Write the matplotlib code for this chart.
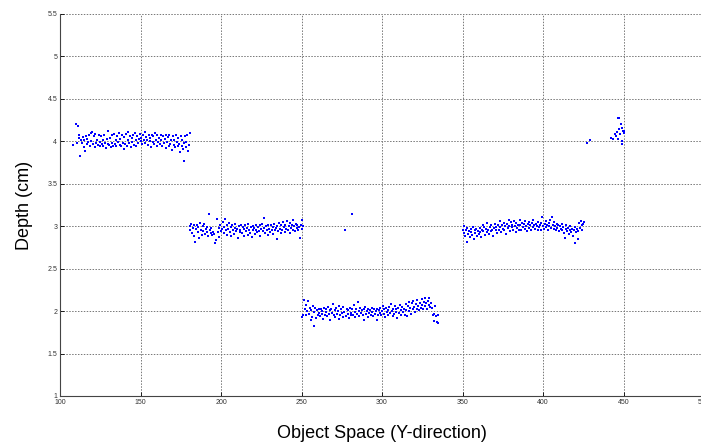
import matplotlib.pyplot as plt
from matplotlib.ticker import FormatStrFormatter

plt.rcParams['font.family'] = ['Liberation Sans', 'DejaVu Sans']

# depth readings (object space y, depth in cm), one list per plateau
cluster1 = [(108.0, 3.96), (109.7, 4.21), (110.5, 3.98), (111.0, 4.18), (111.6, 4.04), (112.0, 4.07), (112.6, 3.83),
            (113.0, 4.01), (113.5, 3.98), (114.0, 4.05), (114.6, 3.93), (115.0, 4.02), (115.5, 3.89), (116.0, 4.06),
            (116.5, 3.97), (117.0, 4.03), (117.6, 3.99), (118.0, 4.08), (118.5, 3.95), (119.0, 4.10), (119.5, 4.00),
            (120.0, 4.11), (120.6, 3.97), (121.0, 4.06), (121.5, 3.93), (122.0, 4.09), (122.5, 3.98), (123.0, 4.02),
            (123.6, 3.96), (124.0, 4.07), (124.6, 3.99), (125.0, 3.94), (125.5, 4.06), (126.0, 3.97), (126.6, 4.01),
            (127.0, 3.95), (127.5, 4.07), (128.0, 3.98), (128.6, 3.92), (129.0, 4.03), (129.6, 3.97), (130.0, 4.12),
            (130.5, 3.96), (131.0, 4.04), (131.6, 3.93), (132.0, 4.07), (132.5, 3.98), (133.0, 3.95), (133.5, 4.09),
            (134.0, 3.97), (134.6, 4.02), (135.0, 3.94), (135.5, 4.06), (136.0, 3.99), (136.6, 4.10), (137.0, 3.96),
            (137.5, 4.03), (138.0, 3.94), (138.6, 4.08), (139.0, 3.98), (139.5, 3.91), (140.0, 4.05), (140.5, 3.97),
            (141.0, 4.09), (141.6, 3.95), (142.0, 4.02), (142.5, 4.11), (143.0, 3.98), (143.6, 4.06), (144.0, 3.93),
            (144.5, 4.04), (145.0, 3.99), (145.6, 4.08), (146.0, 3.96), (146.5, 4.10), (147.0, 4.01), (147.5, 3.94),
            (148.0, 4.06), (148.6, 3.98), (149.0, 4.03), (149.5, 4.09), (150.0, 4.00), (150.5, 4.04), (151.0, 3.97),
            (151.6, 4.07), (152.0, 4.01), (152.5, 4.11), (153.0, 3.98), (153.6, 4.05), (154.0, 4.02), (154.5, 3.96),
            (155.0, 4.08), (155.6, 4.00), (156.0, 4.04), (156.5, 3.93), (157.0, 4.07), (157.6, 3.99), (158.0, 4.06),
            (158.5, 3.97), (159.0, 4.10), (159.6, 4.02), (160.0, 3.95), (160.5, 4.07), (161.0, 3.99), (161.6, 4.04),
            (162.0, 3.97), (162.5, 4.08), (163.0, 4.01), (163.6, 3.94), (164.0, 4.06), (164.5, 3.98), (165.0, 4.03),
            (165.6, 3.92), (166.0, 4.07), (166.5, 3.99), (167.0, 4.05), (167.6, 3.95), (168.0, 4.08), (168.5, 3.97),
            (169.0, 4.02), (169.6, 3.90), (170.0, 4.06), (170.5, 3.96), (171.0, 4.01), (171.6, 3.93), (172.0, 4.08),
            (172.5, 3.99), (173.0, 3.94), (173.6, 4.04), (174.0, 3.97), (174.5, 3.88), (175.0, 4.06), (175.6, 3.95),
            (176.0, 4.01), (176.5, 3.91), (177.0, 3.98), (177.2, 3.77), (177.6, 4.06), (178.0, 3.93), (178.5, 3.99),
            (179.0, 4.07), (179.4, 3.89), (180.0, 3.96), (180.7, 4.10)]

cluster2 = [(180.5, 3.00), (181.0, 2.96), (181.6, 3.03), (182.0, 2.92), (182.5, 2.98), (183.0, 3.02), (183.5, 2.88),
            (184.0, 2.81), (184.5, 2.97), (185.0, 3.01), (185.6, 2.93), (186.0, 2.99), (186.5, 2.86), (187.0, 3.04),
            (187.5, 2.95), (188.0, 2.90), (188.6, 3.00), (189.0, 2.94), (189.5, 3.03), (190.0, 2.91), (190.5, 2.97),
            (191.0, 2.93), (191.6, 2.99), (192.0, 2.89), (192.7, 3.14), (193.0, 2.95), (193.6, 2.92), (194.0, 2.98),
            (194.5, 2.90), (195.0, 2.93), (195.6, 2.91), (196.3, 2.80), (197.0, 2.84), (197.3, 3.08), (198.0, 2.93),
            (198.5, 2.98), (199.0, 2.87), (199.6, 3.01), (200.0, 2.94), (200.5, 2.97), (201.0, 3.05), (201.6, 2.92),
            (202.0, 2.99), (202.5, 3.08), (203.0, 2.95), (203.6, 3.02), (204.0, 2.90), (204.5, 2.97), (205.0, 3.04),
            (205.6, 2.93), (206.0, 2.99), (206.5, 2.88), (207.0, 3.01), (207.6, 2.95), (208.0, 2.91), (208.5, 2.98),
            (209.0, 3.03), (209.6, 2.94), (210.0, 2.97), (210.5, 2.86), (211.0, 3.00), (211.6, 2.93), (212.0, 2.96),
            (212.5, 3.02), (213.0, 2.92), (213.6, 2.99), (214.0, 2.89), (214.5, 2.97), (215.0, 3.01), (215.6, 2.94),
            (216.0, 2.98), (216.5, 2.90), (217.0, 3.03), (217.6, 2.96), (218.0, 2.92), (218.5, 2.99), (219.0, 2.87),
            (219.6, 3.00), (220.0, 2.95), (220.5, 2.98), (221.0, 2.91), (221.6, 3.02), (222.0, 2.96), (222.5, 2.93),
            (223.0, 2.99), (223.6, 2.94), (224.0, 3.01), (224.5, 2.89), (225.0, 2.97), (225.6, 3.03), (226.0, 2.94),
            (226.7, 3.10), (227.0, 2.98), (227.5, 2.92), (228.0, 3.00), (228.6, 2.95), (229.0, 3.02), (229.5, 2.90),
            (230.0, 2.97), (230.6, 2.93), (231.0, 3.01), (231.5, 2.96), (232.0, 2.99), (232.6, 2.91), (233.0, 3.03),
            (233.5, 2.95), (234.0, 2.98), (234.6, 2.85), (235.0, 3.00), (235.5, 2.94), (236.0, 3.04), (236.6, 2.97),
            (237.0, 2.92), (237.5, 3.01), (238.0, 2.96), (238.6, 3.05), (239.0, 2.99), (239.5, 2.93), (240.0, 3.02),
            (240.6, 2.97), (241.0, 3.06), (241.5, 2.95), (242.0, 3.00), (242.6, 2.92), (243.0, 3.04), (243.5, 2.98),
            (244.0, 3.02), (244.6, 2.96), (245.0, 3.07), (245.5, 3.00), (246.0, 2.94), (246.6, 3.03), (247.0, 2.98),
            (247.5, 3.01), (248.0, 2.95), (248.6, 2.99), (249.0, 2.86), (249.5, 3.02), (250.0, 3.07), (250.5, 2.97),
            (251.0, 3.00)]

strays = [(277.0, 2.96), (281.4, 3.14)]

cluster3 = [(250.6, 1.93), (251.0, 1.96), (251.6, 2.13), (252.0, 2.03), (252.5, 1.95), (253.0, 2.07), (253.6, 2.00),
            (254.0, 2.12), (254.5, 1.97), (255.0, 2.04), (255.6, 1.90), (256.0, 2.01), (256.5, 1.93), (257.0, 2.06),
            (257.8, 1.83), (258.0, 1.99), (258.6, 2.04), (259.0, 1.92), (259.5, 2.01), (260.0, 1.96), (260.6, 2.02),
            (261.0, 1.98), (261.5, 1.94), (262.0, 2.03), (262.6, 1.97), (263.0, 2.00), (263.5, 1.91), (264.0, 2.04),
            (264.6, 1.96), (265.0, 1.99), (265.5, 2.02), (266.0, 1.94), (266.6, 2.05), (267.0, 1.97), (267.5, 2.01),
            (268.0, 1.89), (268.6, 2.03), (269.0, 1.98), (269.5, 2.08), (270.0, 1.95), (270.6, 2.01), (271.0, 1.93),
            (271.5, 2.04), (272.0, 1.97), (272.6, 2.00), (273.0, 1.91), (273.5, 2.06), (274.0, 1.96), (274.6, 2.02),
            (275.0, 1.98), (275.5, 1.93), (276.0, 2.05), (276.6, 1.99), (277.5, 1.94), (278.0, 2.03), (278.6, 1.97),
            (279.0, 2.01), (279.5, 1.92), (280.0, 2.04), (280.6, 1.98), (281.0, 1.95), (281.5, 2.02), (282.0, 1.96),
            (282.6, 2.07), (283.0, 1.99), (283.5, 1.93), (284.0, 2.03), (284.6, 1.97), (285.0, 2.11), (285.5, 2.00),
            (286.0, 1.94), (286.6, 2.04), (287.0, 1.98), (287.5, 2.01), (288.0, 1.95), (288.6, 2.02), (289.0, 1.90),
            (289.5, 2.05), (290.0, 1.97), (290.6, 2.00), (291.0, 1.93), (291.5, 2.03), (292.0, 1.98), (292.6, 2.01),
            (293.0, 1.96), (293.5, 2.04), (294.0, 1.99), (294.6, 1.94), (295.0, 2.02), (295.5, 1.97), (296.0, 2.00),
            (296.6, 1.89), (297.0, 2.03), (297.5, 1.96), (298.0, 2.01), (298.6, 1.98), (299.0, 2.04), (299.5, 1.95),
            (300.0, 2.00), (300.6, 2.06), (301.0, 1.97), (301.5, 2.02), (302.0, 1.93), (302.6, 2.04), (303.0, 1.99),
            (303.5, 2.01), (304.0, 1.95), (304.6, 2.05), (305.0, 1.98), (305.5, 2.08), (306.0, 2.00), (306.6, 1.94),
            (307.0, 2.03), (307.5, 1.97), (308.0, 2.06), (308.6, 1.99), (309.0, 2.02), (309.5, 1.92), (310.0, 2.04),
            (310.6, 1.98), (311.0, 2.07), (311.5, 2.01), (312.0, 1.95), (312.6, 2.05), (313.0, 1.99), (313.5, 2.03),
            (314.0, 1.96), (314.6, 2.08), (315.0, 2.01), (315.5, 1.94), (316.0, 2.06), (316.6, 2.11), (317.0, 2.00),
            (317.5, 2.04), (318.0, 1.97), (318.6, 2.09), (319.0, 2.02), (319.5, 2.12), (320.0, 2.05), (320.6, 1.99),
            (321.0, 2.08), (321.5, 2.03), (322.0, 2.13), (322.6, 2.06), (323.0, 2.01), (323.5, 2.10), (324.0, 2.04),
            (324.6, 2.14), (325.0, 2.07), (325.5, 2.02), (326.0, 2.11), (326.6, 2.15), (327.0, 2.06), (327.5, 2.09),
            (328.0, 2.03), (328.6, 2.12), (329.0, 2.07), (329.5, 2.16), (330.0, 2.05), (330.6, 2.10), (331.0, 2.04),
            (331.5, 1.96), (332.0, 1.88), (332.6, 1.97), (333.0, 2.06), (333.5, 1.94), (334.0, 1.87), (334.6, 1.96),
            (335.0, 1.86)]

cluster4 = [(350.3, 2.96), (350.8, 2.92), (351.2, 3.00), (351.6, 2.89), (352.0, 2.95), (352.8, 2.82), (353.0, 2.98),
            (353.5, 2.91), (354.0, 2.94), (354.6, 2.87), (355.0, 2.97), (355.5, 2.93), (356.0, 2.90), (356.6, 2.99),
            (357.0, 2.85), (357.5, 2.95), (358.0, 2.92), (358.6, 2.97), (359.0, 2.88), (359.5, 2.94), (360.0, 2.91),
            (360.6, 2.98), (361.0, 2.93), (361.5, 2.87), (362.0, 2.96), (362.6, 3.02), (363.0, 2.94), (363.5, 2.99),
            (364.0, 2.90), (364.6, 2.97), (365.0, 2.93), (365.5, 3.04), (366.0, 2.96), (366.6, 2.91), (367.0, 2.99),
            (367.5, 2.94), (368.0, 3.01), (368.6, 2.95), (369.0, 2.89), (369.5, 2.98), (370.0, 3.03), (370.6, 2.95),
            (371.0, 2.99), (371.5, 2.92), (372.0, 3.02), (372.6, 2.96), (373.0, 3.06), (373.5, 2.99), (374.0, 2.93),
            (374.6, 3.01), (375.0, 2.97), (375.5, 3.04), (376.0, 2.95), (376.6, 3.00), (377.0, 2.91), (377.5, 3.03),
            (378.0, 2.98), (378.6, 3.07), (379.0, 3.00), (379.5, 2.94), (380.0, 3.05), (380.6, 2.99), (381.0, 3.02),
            (381.5, 2.96), (382.0, 3.06), (382.6, 3.00), (383.0, 2.93), (383.5, 3.04), (384.0, 2.98), (384.6, 3.02),
            (385.0, 2.96), (385.5, 3.07), (386.0, 3.01), (386.6, 2.95), (387.0, 3.04), (387.5, 2.99), (388.0, 3.03),
            (388.6, 2.97), (389.0, 3.06), (389.5, 3.00), (390.0, 2.94), (390.6, 3.03), (391.0, 2.98), (391.5, 3.05),
            (392.0, 3.01), (392.6, 2.95), (393.0, 3.04), (393.5, 2.99), (394.0, 3.07), (394.6, 3.02), (395.0, 2.97),
            (395.5, 3.03), (396.0, 3.00), (396.6, 2.96), (397.0, 3.05), (397.5, 2.99), (398.0, 3.02), (398.6, 2.95),
            (399.0, 3.04), (399.6, 3.11), (400.0, 3.00), (400.5, 2.97), (401.0, 3.03), (401.6, 2.99), (402.0, 3.06),
            (402.5, 3.01), (403.0, 2.96), (403.6, 3.04), (404.0, 3.00), (404.5, 3.07), (405.0, 2.98), (405.4, 3.11),
            (406.0, 3.02), (406.6, 2.97), (407.0, 3.05), (407.5, 3.00), (408.0, 2.95), (408.6, 3.03), (409.0, 2.98),
            (409.5, 3.01), (410.0, 2.94), (410.6, 3.00), (411.0, 2.97), (411.5, 3.03), (412.0, 2.95), (412.6, 2.99),
            (413.0, 2.92), (413.7, 2.86), (414.0, 2.97), (414.5, 3.01), (415.0, 2.94), (415.6, 2.98), (416.0, 2.91),
            (416.5, 2.96), (417.0, 3.00), (417.6, 2.93), (418.0, 2.97), (418.5, 2.89), (419.0, 2.95), (419.6, 2.99),
            (420.0, 2.80), (420.5, 2.93), (421.0, 2.97), (421.6, 2.85), (422.0, 2.94), (422.5, 3.04), (423.0, 2.98),
            (423.6, 3.06), (424.0, 3.01), (424.5, 2.96), (425.0, 3.03), (425.5, 3.05)]

cluster5 = [(427.1, 3.98), (429.2, 4.02), (442.4, 4.04), (443.7, 4.03), (444.7, 4.09), (445.5, 4.06), (446.0, 4.11),
            (446.8, 4.27), (447.2, 4.27), (446.8, 4.03), (447.5, 4.14), (448.0, 4.09), (448.3, 4.20), (448.8, 4.00),
            (449.2, 3.97), (449.5, 4.12), (450.0, 4.12), (450.3, 4.10), (449.0, 4.16)]

x_ticks = [100, 150, 200, 250, 300, 350, 400, 450, 500]
y_ticks = [1, 1.5, 2, 2.5, 3, 3.5, 4, 4.5, 5, 5.5]

fig = plt.figure(figsize=(7.01, 4.47), dpi=100)
# axes run slightly past the right edge, like the cropped original
ax = fig.add_axes([60 / 701, 51 / 447, 644 / 701, 382 / 447])

for pts in [cluster1, cluster2, strays, cluster3, cluster4, cluster5]:
    xs = [p[0] for p in pts]
    ys = [p[1] for p in pts]
    ax.plot(xs, ys, linestyle='none', marker='s', markersize=2.1,
            markeredgewidth=0, color=(0, 0, 1))

ax.set_xlim(100, 500)
ax.set_ylim(1, 5.5)
ax.set_xticks(x_ticks)
ax.set_yticks(y_ticks)
ax.yaxis.set_major_formatter(FormatStrFormatter('%g'))
ax.tick_params(direction='in', length=3, width=0.6, labelsize=5, labelcolor='#333333', pad=2)

ax.grid(True, linestyle=(0, (1.5, 1.5)), color='#777777', linewidth=0.7)
ax.set_axisbelow(True)
ax.spines['top'].set_visible(False)
ax.spines['right'].set_visible(False)
ax.spines['left'].set_color('#444444')
ax.spines['bottom'].set_color('#444444')
ax.spines['left'].set_linewidth(0.8)
ax.spines['bottom'].set_linewidth(0.8)

ax.set_xlabel('Object Space (Y-direction)', fontsize=13, labelpad=14)
ax.set_ylabel('Depth (cm)', fontsize=13, labelpad=10)

fig.savefig('out.png', dpi=100)
